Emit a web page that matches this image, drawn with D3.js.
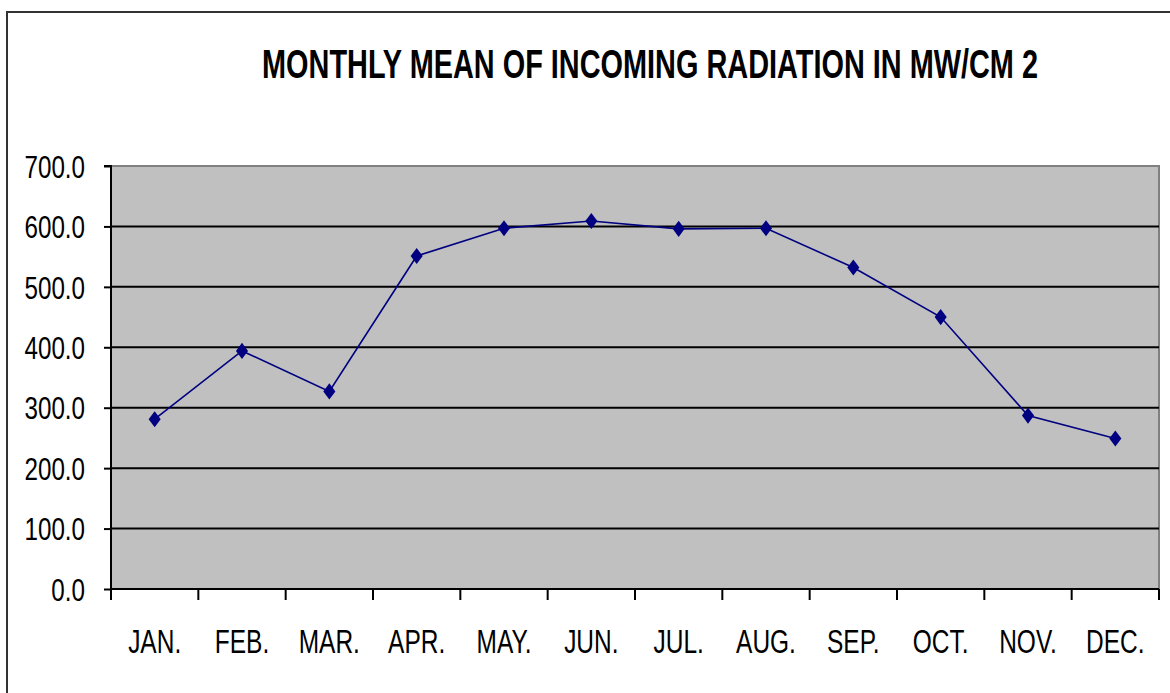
<!DOCTYPE html>
<html>
<head>
<meta charset="utf-8">
<script src="https://cdn.jsdelivr.net/npm/d3@7"></script>
<style>
  body { margin: 0; background: #fff; overflow: hidden; }
  svg { display: block; }
  text { font-family: "Liberation Sans", Arial, sans-serif; }
</style>
</head>
<body>
<div id="plot"></div>
<script>
// chart data
const months = ["JAN.", "FEB.", "MAR.", "APR.", "MAY.", "JUN.", "JUL.", "AUG.", "SEP.", "OCT.", "NOV.", "DEC."];
const radiation = [281, 394, 327, 551, 597, 609, 596, 597, 532, 450, 287, 249];
const yTicks = [0, 100, 200, 300, 400, 500, 600, 700];
const title = "MONTHLY MEAN OF INCOMING RADIATION IN MW/CM 2";

const w = 1170;
const h = 693;
const margin = {top: 166, right: 11, bottom: 104, left: 111};
const innerWidth = w - margin.left - margin.right;
const innerHeight = h - margin.top - margin.bottom;

const svg = d3.select("div#plot")
  .append("svg")
  .attr("width", w)
  .attr("height", h);

// outer frame: only the top and left edges are visible in the picture
svg.append("path")
  .attr("d", `M7,${h}V12H${w}`)
  .attr("fill", "none")
  .attr("stroke", "#333")
  .attr("stroke-width", 2);

// title
svg.append("text")
  .attr("x", 262)
  .attr("y", 78)
  .attr("textLength", 776)
  .attr("lengthAdjust", "spacingAndGlyphs")
  .style("font-size", "41px")
  .style("font-weight", "bold")
  .style("fill", "#000")
  .text(title);

const xScale = d3.scaleBand()
  .domain(months)
  .range([0, innerWidth]);

const yScale = d3.scaleLinear()
  .domain([0, 700])
  .range([innerHeight, 0]);

const g = svg.append("g")
  .attr("transform", `translate(${margin.left}, ${margin.top})`);

// plot area
g.append("rect")
  .attr("width", innerWidth)
  .attr("height", innerHeight)
  .attr("fill", "#c0c0c0")
  .attr("stroke", "#808080")
  .attr("stroke-width", 2);

// gridlines
g.selectAll(".grid")
  .data(yTicks.filter(d => d > 0 && d < 700))
  .join("line")
  .attr("class", "grid")
  .attr("x1", 0)
  .attr("x2", innerWidth)
  .attr("y1", d => yScale(d))
  .attr("y2", d => yScale(d))
  .attr("stroke", "#000")
  .attr("stroke-width", 2);

// squeeze text horizontally (narrow font look)
function narrow(sel, k) {
  sel.each(function() {
    const len = this.getComputedTextLength();
    d3.select(this)
      .attr("textLength", len * k)
      .attr("lengthAdjust", "spacingAndGlyphs");
  });
}

// y axis
const yAxis = g.append("g")
  .call(d3.axisLeft(yScale).tickValues(yTicks).tickSize(7).tickPadding(19).tickFormat(d3.format(".1f")));
yAxis.select(".domain").attr("stroke", "#000").attr("stroke-width", 2).attr("d", `M-7,0H0V${innerHeight + 11}`);
yAxis.selectAll(".tick line").attr("stroke", "#000").attr("stroke-width", 2);
yAxis.selectAll(".tick text")
  .attr("dy", "0.36em")
  .style("font-size", "31px")
  .style("fill", "#000")
  .style("font-family", "'Liberation Sans', Arial, sans-serif")
  .call(narrow, 0.78);

// x axis with ticks on category boundaries
const boundaries = months.map(m => xScale(m)).concat([innerWidth]);
const xAxis = g.append("g")
  .attr("transform", `translate(0, ${innerHeight})`);
xAxis.append("line")
  .attr("x1", 0)
  .attr("x2", innerWidth)
  .attr("stroke", "#000")
  .attr("stroke-width", 2);
xAxis.selectAll(".xtick")
  .data(boundaries)
  .join("line")
  .attr("class", "xtick")
  .attr("x1", d => d)
  .attr("x2", d => d)
  .attr("y1", 0)
  .attr("y2", 11)
  .attr("stroke", "#000")
  .attr("stroke-width", 2);
xAxis.selectAll(".xlabel")
  .data(months)
  .join("text")
  .attr("class", "xlabel")
  .attr("text-anchor", "middle")
  .attr("x", d => xScale(d) + xScale.bandwidth() / 2)
  .attr("y", 64)
  .style("font-size", "34px")
  .style("fill", "#000")
  .text(d => d)
  .call(narrow, 0.72);

// line + markers
const pts = months.map((m, i) => [xScale(m) + xScale.bandwidth() / 2, yScale(radiation[i])]);

g.append("path")
  .datum(pts)
  .attr("fill", "none")
  .attr("stroke", "#000080")
  .attr("stroke-width", 1.6)
  .attr("d", d3.line());

g.selectAll(".marker")
  .data(pts)
  .join("path")
  .attr("class", "marker")
  .attr("transform", d => `translate(${d[0]}, ${d[1]}) scale(1.3,1)`)
  .attr("d", d3.symbol(d3.symbolDiamond, 75))
  .attr("fill", "#000080");
</script>
</body>
</html>
